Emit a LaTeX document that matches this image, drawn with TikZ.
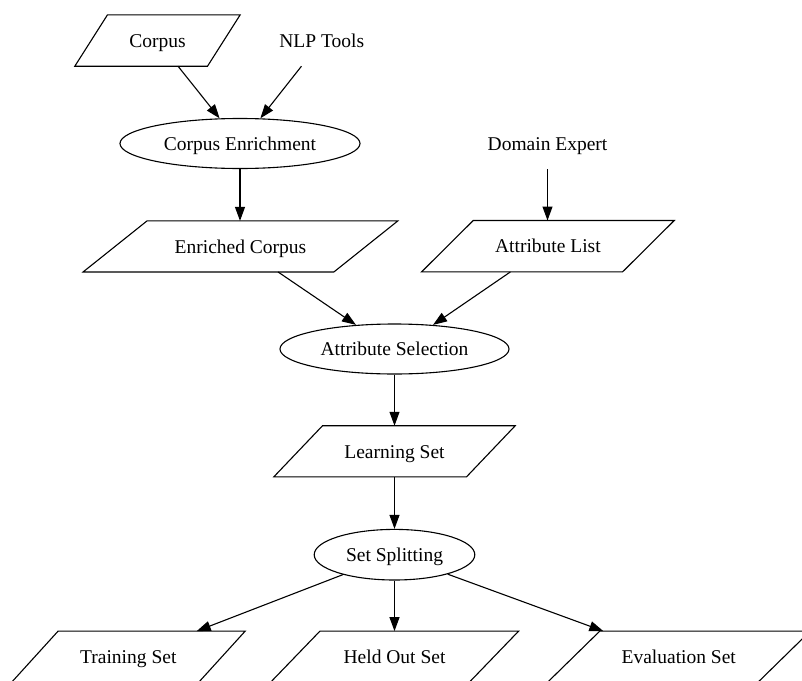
\documentclass[tikz,border=0pt]{standalone}
\usepackage{fontspec}
\setmainfont{Liberation Serif}
\usetikzlibrary{shapes.geometric,arrows.meta,calc}
\tikzset{
  lbl/.style={font=\fontsize{19.5}{22}\selectfont, inner sep=0pt, text=black, text height=13.5pt, text depth=0pt},
  pbox/.style={lbl, rectangle, draw=none},
  ell/.style={lbl, ellipse, draw, line width=1.1pt},
  plainlbl/.style={lbl, rectangle, draw=none, minimum width=100pt, minimum height=51pt},
  shapeline/.style={draw, line width=1.1pt, line join=miter},
  arr/.style={line width=1.1pt, -{Triangle[length=14pt,width=10pt]}},
}
\newcommand\paradraw[2]{\draw[shapeline] (#1.south west) -- ($(#1.north west)+(#2,0)$) -- (#1.north east) -- ($(#1.south east)-(#2,0)$) -- cycle;}
\begin{document}
\begin{tikzpicture}[x=1pt,y=-1pt]
\useasboundingbox (0,0) rectangle (802,680);
\clip (0,0) rectangle (802,680);
% nodes
\node[pbox, minimum width=165pt, minimum height=51pt] (corpus) at (157.5,40.5) {Corpus};
\node[plainlbl] (nlp) at (321.7,40.5) {NLP Tools};
\node[ell, minimum width=240pt, minimum height=50pt] (ce) at (240,143.5) {Corpus Enrichment};
\node[plainlbl, minimum width=140pt] (de) at (547.5,143.5) {Domain Expert};
\node[pbox, minimum width=314.4pt, minimum height=50.7pt] (ec) at (240.5,246.4) {Enriched Corpus};
\node[pbox, minimum width=252.3pt, minimum height=51pt] (al) at (547.9,246.2) {Attribute List};
\node[ell, minimum width=229pt, minimum height=50pt] (as) at (394.5,349) {Attribute Selection};
\node[pbox, minimum width=241pt, minimum height=50.7pt] (ls) at (394.5,451.3) {Learning Set};
\node[ell, minimum width=160.6pt, minimum height=50.6pt] (ss) at (394.5,554.7) {Set Splitting};
\node[pbox, minimum width=233.4pt, minimum height=51pt] (ts) at (128.3,656.8) {Training Set};
\node[pbox, minimum width=247.9pt, minimum height=51pt] (hos) at (394.5,656.8) {Held Out Set};
\node[pbox, minimum width=262.5pt, minimum height=51pt] (es) at (678.75,656.8) {Evaluation Set};
% parallelogram outlines
\paradraw{corpus}{32.7}
\paradraw{ec}{64}
\paradraw{al}{51.7}
\paradraw{ls}{48.7}
\paradraw{ts}{46.7}
\paradraw{hos}{49.6}
\paradraw{es}{52.5}
% connectors
\draw[arr] (corpus) -- (ce.129);
\draw[arr] (nlp) -- (ce.51);
\draw[arr] (ce.south) -- (ce.south |- ec.north);
\draw[arr] (de.south) -- (de.south |- al.north);
\draw[arr] (ec) -- (as.148);
\draw[arr] (al) -- (as.32);
\draw[arr] (as.south) -- (as.south |- ls.north);
\draw[arr] (ls.south -| ss.north) -- (ss.north);
\draw[arr] (ss) -- ($(ts.north)+(68.4,0)$);
\draw[arr] (ss.south) -- (ss.south |- hos.north);
\draw[arr] (ss) -- ($(es.north)+(-75.4,0)$);
\end{tikzpicture}
\end{document}
